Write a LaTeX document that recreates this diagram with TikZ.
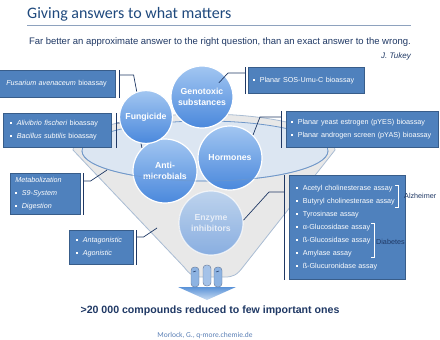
\documentclass[tikz,border=0pt]{standalone}
\usepackage{fontspec}
\setmainfont{Liberation Sans}
\newfontfamily\calibrifont{Carlito}
\usetikzlibrary{positioning, calc}
\definecolor{titleblue}{HTML}{1F497D}
\definecolor{navy}{HTML}{1F3864}
\definecolor{rulegrey}{HTML}{8EA2BE}
\definecolor{boxblue}{HTML}{4F81BD}
\definecolor{boxedge}{HTML}{385D8A}
\definecolor{balltop}{HTML}{A2C6F1}
\definecolor{ballbot}{HTML}{4A88DC}
\definecolor{funnelgrey}{HTML}{E8E8E8}
\definecolor{funneledge}{HTML}{A9BCD3}
\definecolor{rimblue}{HTML}{6F97C9}
\definecolor{openfill}{HTML}{DCE6F2}
\definecolor{srcblue}{HTML}{5A7FB5}
\definecolor{mitefill}{HTML}{8DB3E2}
\definecolor{arrowtop}{HTML}{5B93D8}
\definecolor{arrowbot}{HTML}{C9DCF2}
\definecolor{enztext}{HTML}{E6EDF7}

\newcommand{\boxfont}{\fontsize{7.2}{13}\selectfont}
\newcommand{\ballfont}{\fontsize{8.7}{11}\selectfont\bfseries}
\newcommand{\bul}{\rule[1.5pt]{2pt}{2pt}\hspace{4.5pt}}

\begin{document}
\begin{tikzpicture}[x=1pt, y=-1pt,
    ball/.style={circle, draw=white, line width=1.2pt, top color=balltop, bottom color=ballbot, minimum size=64pt, inner sep=0pt, align=center, text=white, font=\ballfont},
    callout/.style={draw=boxedge, fill=boxblue, line width=0.6pt, anchor=north west, align=left, text=white, font=\boxfont, inner ysep=0pt},
    accent/.style={navy, line width=0.8pt},
    leader/.style={navy, line width=0.7pt},
    brace/.style={white, line width=0.6pt},
    mitebody/.style={fill=mitefill, draw=navy!70, line width=0.4pt, rounded corners=3.5pt},
    every node/.style={font=\boxfont}
]
\useasboundingbox (0,0) rectangle (440,340);

% Title and quote
\node[anchor=base west, inner sep=0pt, text=titleblue, font=\calibrifont\fontsize{16}{18}\selectfont] (title) at (27,19) {Giving answers to what matters};
\draw[rulegrey, line width=1pt] (27,25) -- (411,25);
\node[anchor=base east, inner sep=0pt, text=navy, font=\fontsize{9.5}{11}\selectfont] (quote) at (411,44)
    {Far better an approximate answer to the right question, than an exact answer to the wrong.};
\node[anchor=base east, inner sep=0pt, text=navy, font=\fontsize{8}{10}\selectfont\itshape] (tukey) at (411,58) {J. Tukey};

% Funnel
\path[fill=funnelgrey, draw=funneledge, line width=0.8pt] (73,150)
    arc[start angle=180, end angle=360, x radius=131, y radius=36]
    -- (243,267) .. controls (237,275) and (233,277) .. (225,277)
    -- (202,277) .. controls (194,277) and (190,275) .. (184,267) -- cycle;
\draw[fill=openfill, draw=rimblue, line width=0.8pt] (205,151) ellipse[x radius=123, y radius=30];

% Mites and outlet arrow
\shade[top color=arrowtop, bottom color=arrowbot] (178,287) -- (236,287) -- (207,300) -- cycle;
\draw[mitebody] (191,267) rectangle (199,287);
\draw[mitebody, fill=mitefill!80] (203,265) rectangle (211,286);
\draw[mitebody] (214,267) rectangle (222,287);
\draw[navy, line width=0.5pt] (193,272) -- (196,271) (216,272) -- (219,271);

% Callouts
\node[callout, inner xsep=8pt, text width=101pt, minimum height=27pt] (fus) at (-2,70)
    {{\itshape Fusarium avenaceum} bioassay};
\node[callout, inner xsep=7pt, text width=94pt, minimum height=34pt] (bac) at (3,113)
    {\bul{\itshape Alivibrio fischeri} bioassay\\\bul{\itshape Bacillus subtilis} bioassay};
\node[callout, inner xsep=5pt, text width=60pt, minimum height=41pt, font=\boxfont\itshape] (meta) at (10,173)
    {Metabolization\\\bul S9-System\\\bul Digestion};
\node[callout, inner xsep=7pt, text width=50pt, minimum height=34pt, font=\boxfont\itshape] (ago) at (69,230)
    {\bul Antagonistic\\\bul Agonistic};
\node[callout, inner xsep=5pt, text width=106pt, minimum height=26pt] (sos) at (248,67)
    {\bul Planar SOS-Umu-C bioassay};
\node[callout, inner xsep=5pt, text width=142pt, minimum height=36pt] (yes) at (286,111)
    {\bul Planar yeast estrogen (pYES) bioassay\\\bul Planar androgen screen (pYAS) bioassay};
\node[callout, inner xsep=7pt, text width=102pt, minimum height=104pt] (enz) at (289,175)
    {\bul Acetyl cholinesterase assay\\\bul Butyryl cholinesterase assay\\\bul Tyrosinase assay\\
     \bul α-Glucosidase assay\\\bul ß-Glucosidase assay\\\bul Amylase assay\\\bul ß-Glucuronidase assay};

\draw[accent] ([xshift=4pt]fus.north east) -- ([xshift=4pt]fus.south east);
\draw[accent] ([xshift=5pt]bac.north east) -- ([xshift=5pt]bac.south east);
\draw[accent] ([xshift=3pt]meta.north east) -- ([xshift=3pt]meta.south east);
\draw[accent] ([xshift=3pt]ago.north east) -- ([xshift=3pt]ago.south east);
\draw[accent] ([xshift=-3pt]sos.north west) -- ([xshift=-3pt]sos.south west);
\draw[accent] ([xshift=-5pt]yes.north west) -- ([xshift=-5pt]yes.south west);
\draw[accent] ([xshift=-5pt]enz.north west) -- ([xshift=-5pt]enz.south west);

% Balls
\node[ball, fill opacity=0.6, draw opacity=0.7, text=enztext, text opacity=1] (enzy) at (211,223) {Enzyme\\inhibitors};
\node[ball] (anti) at (165,171) {Anti-\\microbials};
\node[ball] (horm) at (230,158) {Hormones};
\draw[rimblue, line width=0.8pt, draw opacity=0.55] (328,151) arc[start angle=0, end angle=180, x radius=123, y radius=30];
\draw[leader] ([xshift=5pt, yshift=-10pt]bac.north east) -- ++(20,0) -- (anti.135);
\node[ball, minimum size=53pt] (fung) at (146,117) {Fungicide};
\node[ball, minimum size=62pt] (geno) at (202,97) {Genotoxic\\substances};

% Leaders
\coordinate (metaend) at (107,170);
\coordinate (agoend) at (157,228);
\draw[leader] ([xshift=4pt, yshift=-5pt]fus.north east) -- ++(14,0) -- (fung.110);
\draw[leader] ([xshift=3pt, yshift=-8pt]meta.north east) -- ++(7,0) -- (metaend);
\draw[leader] ([xshift=3pt, yshift=-7pt]ago.north east) -- ++(7,0) -- (agoend);
\draw[leader] ([xshift=-3pt, yshift=-6pt]sos.north west) -- ++(-17,0) -- ($(geno.center)!0.7!(geno.40)$);
\draw[leader] ([xshift=-5pt, yshift=-6pt]yes.north west) -- ++(-21,0) -- (horm.45);
\draw[leader] ([xshift=-5pt, yshift=-17pt]enz.north west) -- ++(-15,0) -- (enzy.5);

% Disease groups
\draw[brace] (395,185) -- (398,185) -- (398,207) -- (395,207);
\node[anchor=west, inner sep=0pt, text=navy] (alz) at (404,196) {Alzheimer};
\draw[brace] (371,223) -- (374,223) -- (374,257) -- (371,257);
\node[anchor=west, inner sep=0pt, text=navy] (diab) at (376,242) {Diabetes};

% Result and source
\node[anchor=base, inner sep=0pt, text=navy, font=\bfseries\fontsize{10.6}{12}\selectfont] (result) at (210,313)
    {>20~000 compounds reduced to few important ones};
\node[anchor=base, inner sep=0pt, text=srcblue, font=\calibrifont\fontsize{7.5}{9}\selectfont] (source) at (205,337)
    {Morlock, G., q-more.chemie.de};

\end{tikzpicture}
\end{document}
